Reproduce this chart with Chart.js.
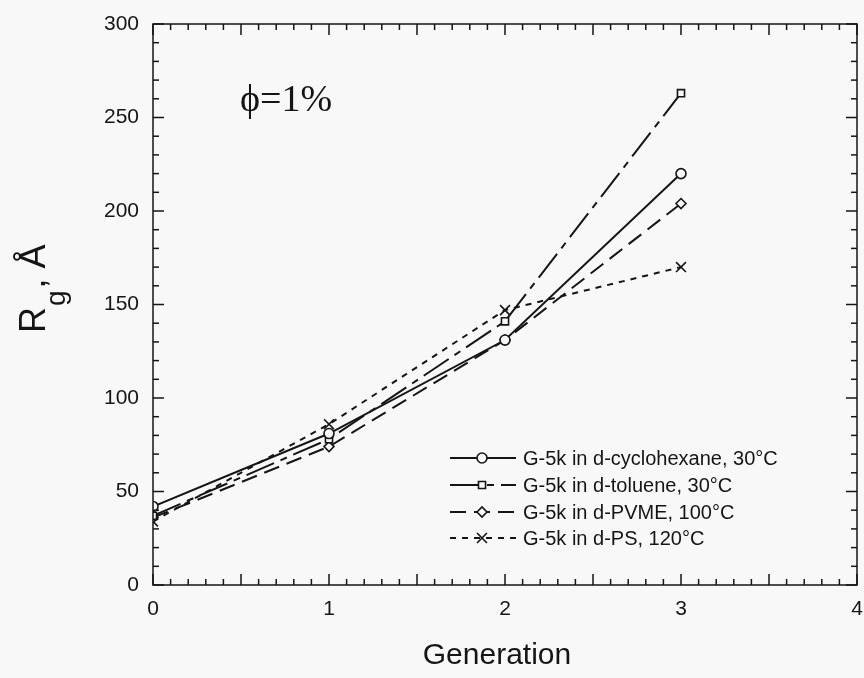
<!DOCTYPE html>
<html>
<head>
<meta charset="utf-8">
<script src="https://cdn.jsdelivr.net/npm/chart.js@4"></script>
<style>
  html, body { margin: 0; padding: 0; background: #f8f8f8; }
  #wrap { width: 864px; height: 678px; }
</style>
</head>
<body>
<div id="wrap"><canvas id="chart" width="864" height="678"></canvas></div>
<script>
// Rg vs generation
const generations = [0, 1, 2, 3];
const cyclohexane = [42, 81, 131, 220];
const toluene = [37, 78, 141, 263];
const pvme = [36, 74, 131, 204];
const ps = [34, 86, 147, 170];

const seriesNames = [
  "G-5k in d-cyclohexane, 30°C",
  "G-5k in d-toluene, 30°C",
  "G-5k in d-PVME, 100°C",
  "G-5k in d-PS, 120°C"
];
const xTicks = [0, 1, 2, 3, 4];
const yTicks = [0, 50, 100, 150, 200, 250, 300];

const ink = "#151515";
const paper = "#f8f8f8";
const sans = '"Liberation Sans", Arial, sans-serif';

const toPoints = (vals) => vals.map((v, i) => ({ x: generations[i], y: v }));

const makeSet = (label, vals, dash, style, radius) => ({
  label,
  data: toPoints(vals),
  borderColor: ink,
  borderWidth: 2,
  borderDash: dash,
  pointStyle: style,
  pointRadius: radius,
  pointBorderWidth: 1.6,
  pointBorderColor: ink,
  pointBackgroundColor: paper,
  tension: 0,
  fill: false
});

const datasets = [
  makeSet(seriesNames[0], cyclohexane, [], "circle", 5),
  makeSet(seriesNames[1], toluene, [30, 7, 7, 7], "rect", 5),
  makeSet(seriesNames[2], pvme, [16, 8], "rectRot", 5),
  makeSet(seriesNames[3], ps, [6, 6], "crossRot", 7)
];

// frame with inward ticks on all sides, titles, note and legend
const decorations = {
  id: "decorations",
  afterDraw(chart) {
    const { ctx, chartArea: a, scales: { x, y } } = chart;
    ctx.save();
    ctx.strokeStyle = ink;
    ctx.lineWidth = 1.5;
    ctx.setLineDash([]);
    ctx.strokeRect(a.left, a.top, a.right - a.left, a.bottom - a.top);

    const seg = (x1, y1, x2, y2) => {
      ctx.beginPath(); ctx.moveTo(x1, y1); ctx.lineTo(x2, y2); ctx.stroke();
    };
    for (let i = 0; i <= 40; i++) {
      const px = x.getPixelForValue(i / 10);
      const len = i % 5 === 0 ? 11 : 6;
      seg(px, a.bottom, px, a.bottom - len);
      seg(px, a.top, px, a.top + len);
    }
    for (let i = 0; i <= 30; i++) {
      const py = y.getPixelForValue(i * 10);
      const len = i % 5 === 0 ? 11 : 6;
      seg(a.left, py, a.left + len, py);
      seg(a.right, py, a.right - len, py);
    }

    ctx.fillStyle = ink;
    ctx.textBaseline = "alphabetic";

    // x title
    ctx.font = "30px " + sans;
    ctx.textAlign = "center";
    ctx.fillText("Generation", 497, 664);

    // y title, rotated, with subscript g
    ctx.save();
    ctx.translate(45, 333);
    ctx.rotate(-Math.PI / 2);
    ctx.textAlign = "left";
    ctx.font = "36px " + sans;
    ctx.fillText("R", 0, 0);
    let off = ctx.measureText("R").width + 1;
    ctx.font = "28px " + sans;
    ctx.fillText("g", off, 20);
    off += ctx.measureText("g").width + 2;
    ctx.font = "36px " + sans;
    ctx.fillText(", Å", off, 0);
    ctx.restore();

    // concentration note
    ctx.font = '38px "Liberation Serif", "DejaVu Serif", serif';
    ctx.textAlign = "left";
    ctx.fillText("ϕ=1%", 240, 111);

    // legend
    const rows = [458, 485, 512, 538];
    chart.data.datasets.forEach((ds, i) => {
      const ry = rows[i];
      ctx.strokeStyle = ink;
      ctx.lineWidth = 2;
      ctx.setLineDash(ds.borderDash);
      seg(450, ry, 516, ry);
      ctx.setLineDash([]);
      ctx.fillStyle = paper;
      ctx.lineWidth = ds.pointBorderWidth;
      Chart.helpers.drawPoint(ctx, {
        pointStyle: ds.pointStyle,
        radius: ds.pointRadius,
        borderWidth: ds.pointBorderWidth
      }, 482, ry);
      ctx.fillStyle = ink;
      ctx.font = "20px " + sans;
      ctx.textAlign = "left";
      ctx.fillText(ds.label, 523, ry + 7);
    });
    ctx.restore();
  }
};

new Chart(document.getElementById("chart"), {
  type: "line",
  data: { datasets },
  plugins: [decorations],
  options: {
    responsive: false,
    animation: false,
    layout: { autoPadding: false, padding: { top: 24, right: 7, left: 0, bottom: 0 } },
    plugins: { legend: { display: false }, tooltip: { enabled: false } },
    scales: {
      x: {
        type: "linear",
        min: 0,
        max: 4,
        afterFit: (s) => { s.height = 93; s.paddingLeft = 0; s.paddingRight = 0; },
        afterBuildTicks: (s) => { s.ticks = xTicks.map((v) => ({ value: v })); },
        grid: { display: false, drawTicks: false },
        border: { display: false },
        ticks: { color: ink, font: { family: sans, size: 21 }, padding: 12 }
      },
      y: {
        type: "linear",
        min: 0,
        max: 300,
        afterFit: (s) => { s.width = 153; s.paddingTop = 0; s.paddingBottom = 0; },
        afterBuildTicks: (s) => { s.ticks = yTicks.map((v) => ({ value: v })); },
        grid: { display: false, drawTicks: false },
        border: { display: false },
        ticks: { color: ink, font: { family: sans, size: 21 }, padding: 14 }
      }
    }
  }
});
</script>
</body>
</html>
